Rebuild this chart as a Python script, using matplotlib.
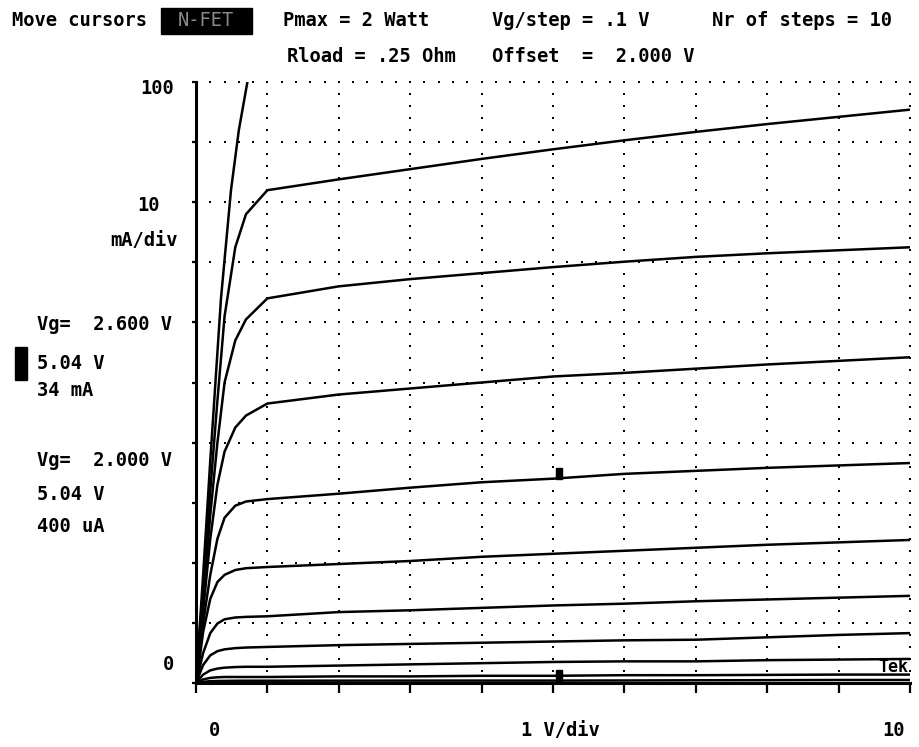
import matplotlib
matplotlib.use("Agg")
import matplotlib.pyplot as plt
from matplotlib.patches import Rectangle
import numpy as np

# ---------------- data ----------------
vg_labels = ["2.0", "2.1", "2.2", "2.3", "2.4", "2.5", "2.6", "2.7", "2.8", "2.9"]
vds = [0, 0.05, 0.1, 0.2, 0.3, 0.4, 0.55, 0.7, 1, 2, 3, 4, 5, 6, 7, 8, 9, 10]
id_20 = [0, 0.1, 0.2, 0.3, 0.33, 0.35, 0.37, 0.38, 0.38, 0.39, 0.4, 0.4, 0.4, 0.42, 0.45, 0.47, 0.5, 0.5]
id_21 = [0, 0.3, 0.6, 0.85, 0.95, 1.0, 1.0, 1.0, 1.0, 1.1, 1.1, 1.2, 1.2, 1.3, 1.3, 1.35, 1.4, 1.4]
id_22 = [0, 0.7, 1.4, 2.1, 2.4, 2.55, 2.65, 2.7, 2.7, 2.9, 3.1, 3.3, 3.5, 3.6, 3.6, 3.8, 3.9, 4.0]
id_23 = [0, 1.5, 3, 4.6, 5.3, 5.6, 5.8, 5.9, 6, 6.3, 6.5, 6.7, 6.9, 7.1, 7.2, 7.6, 8, 8.3]
id_24 = [0, 2.5, 5, 8.3, 9.9, 10.6, 10.9, 11, 11.1, 11.8, 12.1, 12.5, 12.9, 13.2, 13.6, 13.9, 14.2, 14.5]
id_25 = [0, 4, 8.5, 14, 16.8, 18, 18.8, 19.1, 19.3, 19.8, 20.3, 21, 21.5, 22, 22.5, 23, 23.4, 23.8]
id_26 = [0, 5, 10, 18, 24, 27.5, 29.5, 30.2, 30.6, 31.5, 32.5, 33.4, 34, 34.8, 35.3, 35.8, 36.2, 36.6]
id_27 = [0, 6, 12, 24, 33, 38.5, 42.5, 44.5, 46.5, 48, 49, 50, 51, 51.6, 52.3, 53, 53.6, 54.2]
id_28 = [0, 7, 14, 28, 40, 50, 57, 60.5, 64, 66, 67.2, 68.2, 69.2, 70.1, 70.9, 71.5, 72, 72.5]
id_29 = [0, 8, 16, 32, 47, 61, 72.5, 78, 82, 83.8, 85.5, 87.2, 88.8, 90.3, 91.7, 93, 94.2, 95.4]
# steepest trace (Vg = 3.0 V), leaves the screen at 100 mA
vds_30 = [0, 0.05, 0.1, 0.2, 0.35, 0.49, 0.6, 0.72]
id_30 = [0, 9, 18, 37, 64, 82, 92, 100]

cursor_v = [5.04, 5.04]
cursor_i = [34, 0.4]

xdivs = list(range(0, 11))        # 1 V/div
ydivs = list(range(0, 101, 10))   # 10 mA/div

# ---------------- figure ----------------
W, H = 919, 747
fig = plt.figure(figsize=(W / 100, H / 100), dpi=100)
fig.patch.set_facecolor("white")
ax = fig.add_axes([196 / W, (H - 683) / H, 714 / W, 601 / H])
ax.set_xlim(0, 10)
ax.set_ylim(0, 100)

# dotted graticule
for xv in xdivs[1:]:
    yy = np.arange(0, 100.01, 2)
    ax.plot([xv] * len(yy), yy, ls="none", marker="s", ms=1.6, mew=0, color="black", clip_on=False)
for yv in ydivs[1:]:
    xx = np.arange(0, 10.01, 0.2)
    ax.plot(xx, [yv] * len(xx), ls="none", marker="s", ms=1.6, mew=0, color="black", clip_on=False)

# traces
for ids in [id_20, id_21, id_22, id_23, id_24, id_25, id_26, id_27, id_28, id_29]:
    ax.plot(vds, ids, color="black", lw=1.8, solid_joinstyle="miter")
ax.plot(vds_30, id_30, color="black", lw=1.8)

# cursor marks
for cv, ci in zip(cursor_v, cursor_i):
    ax.add_patch(Rectangle((cv, ci), 0.08, 1.8, color="black", zorder=5))

# spines / ticks
for s in ["top", "right"]:
    ax.spines[s].set_visible(False)
for s in ["left", "bottom"]:
    ax.spines[s].set_linewidth(2.2)
ax.set_xticks(xdivs)
ax.set_yticks(ydivs)
ax.tick_params(axis="x", direction="out", length=7, width=1.6, labelbottom=False)
ax.tick_params(axis="y", direction="out", length=3, width=1.6, labelleft=False)

fam = "DejaVu Sans Mono"
FS = 13.5


def ftext(x, y, s, ha="left", fs=FS, **kw):
    kw.setdefault("fontweight", "bold")
    fig.text(x / W, 1 - y / H, s, ha=ha, va="center", family=fam, fontsize=fs, **kw)


# header
ftext(12, 20, "Move cursors")
fig.patches.append(Rectangle((161 / W, 1 - 34 / H), 91 / W, 26 / H, color="black",
                             transform=fig.transFigure, figure=fig))
ftext(206, 21, "N-FET", ha="center", color="#8a8a8a", fontweight="normal")
ftext(283, 20, "Pmax = 2 Watt")
ftext(492, 20, "Vg/step = .1 V")
ftext(712, 20, "Nr of steps = 10")
ftext(287, 57, "Rload = .25 Ohm")
ftext(492, 57, "Offset  =  2.000 V")

# left side labels
ftext(174, 89, "100", ha="right")
ftext(160, 205, "10", ha="right")
ftext(178, 240, "mA/div", ha="right")
ftext(174, 664, "0", ha="right")

ftext(37, 324, "Vg=  2.600 V")
fig.patches.append(Rectangle((15 / W, 1 - 380 / H), 12 / W, 33 / H, color="black",
                             transform=fig.transFigure, figure=fig))
ftext(37, 363, "5.04 V")
ftext(37, 391, "34 mA")
ftext(37, 461, "Vg=  2.000 V")
ftext(37, 495, "5.04 V")
ftext(37, 527, "400 uA")

# bottom labels
ftext(215, 730, "0", ha="center")
ftext(560, 730, "1 V/div", ha="center")
ftext(905, 730, "10", ha="right")

# Tek logo
ftext(893, 667, "Tek", ha="center", fs=12)

fig.savefig("out.png", dpi=100, facecolor="white")
